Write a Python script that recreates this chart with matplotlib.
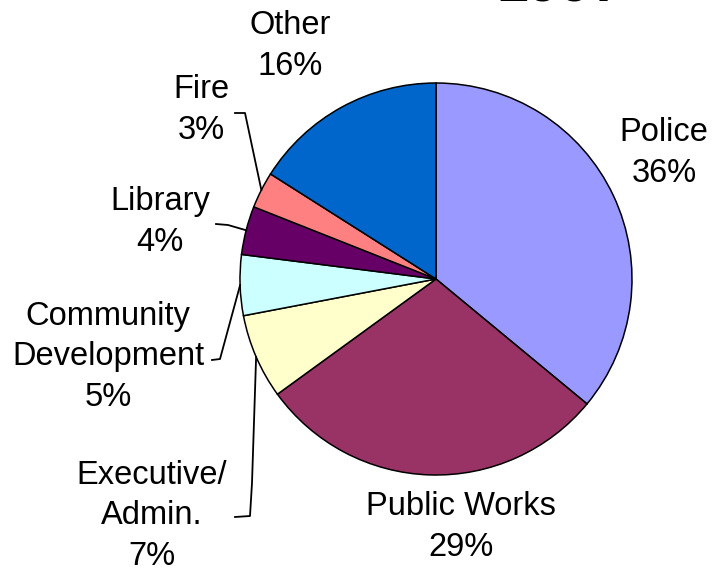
import numpy as np
import matplotlib.pyplot as plt

plt.rcParams['font.family'] = ['Liberation Sans', 'DejaVu Sans']

# budget share by department (percent)
departments = ['Police', 'Public Works', 'Executive/\nAdmin.', 'Community\nDevelopment',
               'Library', 'Fire', 'Other']
shares = [36, 29, 7, 5, 4, 3, 16]
colors = ['#9999FF', '#993366', '#FFFFCC', '#CCFFFF', '#660066', '#FF8080', '#0066CC']
year_title = '1997'

W, H = 721, 577

def px(x, y):
    # image pixel (origin top-left) -> data coords
    return x, H - y

# label block centres, in pixels
label_pos = [(664, 153), (461, 527), (152, 516), (108, 357), (160, 222), (201, 110), (290, 46)]
# leader line elbows, the line ends on the wedge edge
leader_pts = {
    2: [(235, 517), (250, 516), (252, 483)],
    3: [(212, 360), (220, 359)],
    4: [(216, 224), (228, 225)],
    5: [(235, 113), (245, 113)],
}

fig = plt.figure(figsize=(7.21, 5.77), dpi=100)
ax = fig.add_axes([0, 0, 1, 1])

cx, cy = px(436, 279)
r = 196
wedges, _ = ax.pie(shares, colors=colors, startangle=90, counterclock=False,
                   center=(cx, cy), radius=r, frame=True,
                   wedgeprops=dict(edgecolor='black', linewidth=1.1))
ax.set_xlim(0, W)
ax.set_ylim(0, H)
ax.set_axis_off()

for i, (name, val) in enumerate(zip(departments, shares)):
    x, y = px(*label_pos[i])
    ax.text(x, y, f'{name}\n{val}%', ha='center', va='center', fontsize=23.5,
            linespacing=1.38, color='black')
    if i in leader_pts:
        w = wedges[i]
        mid = np.deg2rad((w.theta1 + w.theta2) / 2)
        pts = [px(*p) for p in leader_pts[i]]
        pts.append((cx + r * np.cos(mid), cy + r * np.sin(mid)))
        xs, ys = zip(*pts)
        ax.plot(xs, ys, color='black', lw=1.3)

# title sits mostly above the top edge
ax.text(560, H - 1.5, year_title, ha='center', va='baseline', fontsize=41,
        fontweight='bold', color='black')

fig.savefig('out.png', dpi=100)
